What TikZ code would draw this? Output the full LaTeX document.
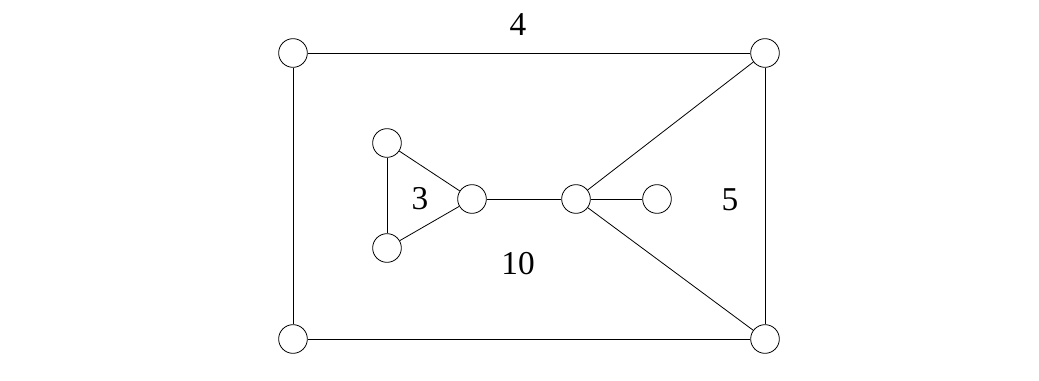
\documentclass[tikz,border=0pt]{standalone}
\usepackage{fontspec}
\setmainfont{Liberation Serif}
\usepackage{tikz}
\tikzset{
  vertex/.style={circle,draw,minimum size=21.5pt,inner sep=0pt,line width=0.6pt},
  facelabel/.style={font=\fontsize{25}{30}\selectfont},
  every edge/.style={draw,line width=0.6pt},
}

\begin{document}
\begin{tikzpicture}[x=0.75pt,y=-0.75pt]
\useasboundingbox (0,0) rectangle (1039,381);

\node[vertex] (tl) at (293,53) {};
\node[vertex] (tr) at (765,53) {};
\node[vertex] (bl) at (293,339) {};
\node[vertex] (br) at (765,339) {};
\node[vertex] (a) at (387,143) {};
\node[vertex] (b) at (387,248) {};
\node[vertex] (c) at (472,199) {};
\node[vertex] (d) at (576,199) {};
\node[vertex] (e) at (657,199) {};

\node[facelabel] (f4) at (518,25) {4};
\node[facelabel] (f3) at (420,199) {3};
\node[facelabel] (f5) at (730,200) {5};
\node[facelabel] (f10) at (518,264) {10};

\path
(tl) edge (tr)
(tr) edge (br)
(br) edge (bl)
(bl) edge (tl)
(a) edge (b)
(b) edge (c)
(c) edge (a)
(c) edge (d)
(d) edge (e)
(d) edge (tr)
(d) edge (br);

\end{tikzpicture}
\end{document}
